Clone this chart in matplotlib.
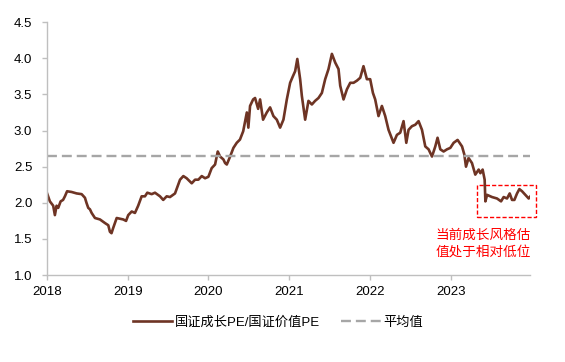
import matplotlib.pyplot as plt
import matplotlib.patches as patches

plt.rcParams['font.family'] = ['Liberation Sans', 'Noto Sans CJK SC']

# values (x in decimal years)
t = [2018.004, 2018.037, 2018.078, 2018.099, 2018.12, 2018.14, 2018.17, 2018.20, 2018.223,
     2018.25, 2018.306, 2018.368, 2018.43, 2018.471, 2018.49, 2018.512, 2018.533, 2018.554,
     2018.595, 2018.657, 2018.719, 2018.76, 2018.78, 2018.80, 2018.82, 2018.864, 2018.905,
     2018.945, 2018.98, 2019.007, 2019.05, 2019.09, 2019.13, 2019.173, 2019.214, 2019.243,
     2019.297, 2019.338, 2019.40, 2019.44, 2019.483, 2019.524, 2019.586, 2019.648, 2019.689,
     2019.73, 2019.793, 2019.834, 2019.875, 2019.917, 2019.958, 2019.999, 2020.04, 2020.082,
     2020.115, 2020.144, 2020.185, 2020.206, 2020.227, 2020.268, 2020.309, 2020.35, 2020.39,
     2020.43, 2020.475, 2020.494, 2020.515, 2020.553, 2020.577, 2020.615, 2020.639, 2020.676,
     2020.722, 2020.763, 2020.804, 2020.846, 2020.887, 2020.928, 2020.97, 2021.011, 2021.045,
     2021.073, 2021.10, 2021.135, 2021.156, 2021.197, 2021.238, 2021.28, 2021.32, 2021.362,
     2021.404, 2021.445, 2021.486, 2021.528, 2021.569, 2021.61, 2021.631, 2021.672, 2021.714,
     2021.755, 2021.796, 2021.838, 2021.879, 2021.919, 2021.961, 2022.002, 2022.036, 2022.064,
     2022.105, 2022.147, 2022.188, 2022.229, 2022.291, 2022.333, 2022.374, 2022.415, 2022.449,
     2022.477, 2022.519, 2022.56, 2022.601, 2022.643, 2022.684, 2022.725, 2022.767, 2022.808,
     2022.836, 2022.87, 2022.911, 2022.953, 2022.994, 2023.035, 2023.084, 2023.139, 2023.167,
     2023.188, 2023.22, 2023.262, 2023.303, 2023.345, 2023.366, 2023.394, 2023.419, 2023.428,
     2023.449, 2023.51, 2023.572, 2023.622, 2023.654, 2023.696, 2023.729, 2023.758, 2023.787,
     2023.82, 2023.849, 2023.882, 2023.923, 2023.964, 2023.985]
pe_ratio = [2.125, 2.02, 1.96, 1.83, 1.96, 1.93, 2.02, 2.04, 2.09,
            2.16, 2.15, 2.13, 2.12, 2.07, 2.00, 1.93, 1.91, 1.86,
            1.79, 1.77, 1.72, 1.69, 1.60, 1.58, 1.65, 1.79, 1.78,
            1.77, 1.75, 1.83, 1.88, 1.86, 1.96, 2.09, 2.09, 2.14,
            2.12, 2.14, 2.09, 2.04, 2.09, 2.08, 2.13, 2.32, 2.37,
            2.34, 2.27, 2.32, 2.32, 2.37, 2.34, 2.36, 2.48, 2.53,
            2.71, 2.64, 2.60, 2.55, 2.53, 2.64, 2.76, 2.83, 2.875,
            2.99, 3.25, 3.04, 3.34, 3.43, 3.45, 3.30, 3.43, 3.15,
            3.25, 3.32, 3.20, 3.15, 3.04, 3.15, 3.43, 3.66, 3.75,
            3.82, 3.99, 3.71, 3.48, 3.15, 3.41, 3.36, 3.41, 3.45,
            3.52, 3.71, 3.85, 4.06, 3.94, 3.85, 3.62, 3.43, 3.57,
            3.66, 3.66, 3.69, 3.73, 3.89, 3.71, 3.71, 3.52, 3.43,
            3.20, 3.34, 3.20, 3.01, 2.83, 2.94, 2.97, 3.13, 2.83,
            3.01, 3.06, 3.08, 3.13, 3.01, 2.78, 2.74, 2.64, 2.78,
            2.90, 2.74, 2.71, 2.74, 2.76, 2.83, 2.87, 2.78, 2.67,
            2.50, 2.62, 2.55, 2.39, 2.46, 2.41, 2.46, 2.32, 2.02,
            2.11, 2.08, 2.06, 2.02, 2.08, 2.06, 2.13, 2.04, 2.04,
            2.13, 2.19, 2.16, 2.11, 2.06, 2.09]
avg_value = 2.65
years = [2018, 2019, 2020, 2021, 2022, 2023]
yticks = [1.0, 1.5, 2.0, 2.5, 3.0, 3.5, 4.0, 4.5]

fig = plt.figure(figsize=(5.65, 3.62), dpi=100)
ax = fig.add_axes([0.083, 0.240, 0.855, 0.699])

ax.plot(t, pe_ratio, color='#6E3424', lw=1.9, label='国证成长PE/国证价值PE')
ax.axhline(avg_value, color='#A6A6A6', lw=1.7, ls=(0, (4.2, 2.1)), label='平均值')

ax.set_xlim(2018, 2023.98)
ax.set_ylim(1.0, 4.5)
ax.set_xticks(years)
ax.set_xticklabels([str(y) for y in years])
ax.set_yticks(yticks)
ax.set_yticklabels(['%.1f' % v for v in yticks])

for s in ['top', 'right']:
    ax.spines[s].set_visible(False)
for s in ['left', 'bottom']:
    ax.spines[s].set_color('#BFBFBF')
    ax.spines[s].set_linewidth(1.0)
ax.tick_params(axis='both', colors='#BFBFBF', length=3.5, width=1.0, labelsize=9.5,
               labelcolor='#000000')
ax.tick_params(axis='y', pad=7)
ax.tick_params(axis='x', pad=4)

# red dashed box around the latest period
box = patches.Rectangle((2023.33, 1.81), 0.73, 0.44, fill=False, ec='#FF0000',
                        lw=1.0, ls=(0, (3, 1.5)), clip_on=False)
ax.add_patch(box)
ax.text(2023.40, 1.43, '当前成长风格估\n值处于相对低位', color='#FF0000', fontsize=9.8,
        ha='center', va='center', linespacing=1.35,
        family=['Noto Sans CJK SC', 'DejaVu Sans'])

fig.legend(loc='center', bbox_to_anchor=(0.492, 0.108), ncol=2, frameon=False,
           handlelength=3.0, handletextpad=0.2, columnspacing=1.6,
           prop={'family': ['Liberation Sans', 'Noto Sans CJK SC'], 'size': 9.5})

fig.savefig('out.png', dpi=100)
